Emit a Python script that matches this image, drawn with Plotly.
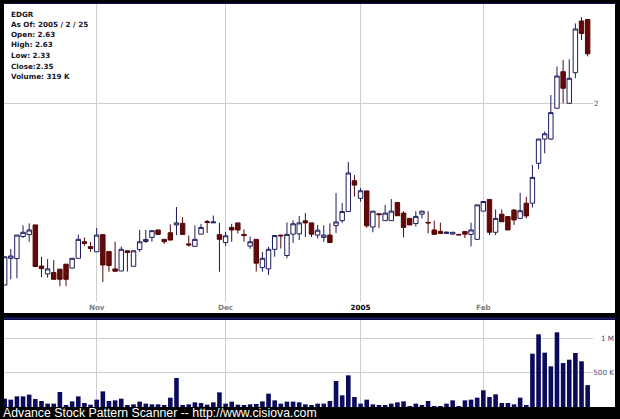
import plotly.graph_objects as go

# ---------------- data ----------------
dates = [
    "2004-10-11", "2004-10-12", "2004-10-13", "2004-10-14", "2004-10-15", "2004-10-18", "2004-10-19",
    "2004-10-20", "2004-10-21", "2004-10-22", "2004-10-25", "2004-10-26", "2004-10-27", "2004-10-28",
    "2004-10-29",
    "2004-11-01", "2004-11-02", "2004-11-03", "2004-11-04", "2004-11-05", "2004-11-08", "2004-11-09",
    "2004-11-10", "2004-11-11", "2004-11-12", "2004-11-15", "2004-11-16", "2004-11-17", "2004-11-18",
    "2004-11-19", "2004-11-22", "2004-11-23", "2004-11-24", "2004-11-26", "2004-11-29", "2004-11-30",
    "2004-12-01", "2004-12-02", "2004-12-03", "2004-12-06", "2004-12-07", "2004-12-08", "2004-12-09",
    "2004-12-10", "2004-12-13", "2004-12-14", "2004-12-15", "2004-12-16", "2004-12-17", "2004-12-20",
    "2004-12-21", "2004-12-22", "2004-12-23", "2004-12-27", "2004-12-28", "2004-12-29", "2004-12-30",
    "2004-12-31",
    "2005-01-03", "2005-01-04", "2005-01-05", "2005-01-06", "2005-01-07", "2005-01-10", "2005-01-11",
    "2005-01-12", "2005-01-13", "2005-01-14", "2005-01-18", "2005-01-19", "2005-01-20", "2005-01-21",
    "2005-01-24", "2005-01-25", "2005-01-26", "2005-01-27", "2005-01-28", "2005-01-31",
    "2005-02-01", "2005-02-02", "2005-02-03", "2005-02-04", "2005-02-07", "2005-02-08", "2005-02-09",
    "2005-02-10", "2005-02-11", "2005-02-14", "2005-02-15", "2005-02-16", "2005-02-17", "2005-02-18",
    "2005-02-22", "2005-02-23", "2005-02-24", "2005-02-25",
]

opens = [
    1.101, 1.202, 1.201, 1.291, 1.299, 1.341, 1.172, 1.142, 1.147, 1.160,
    1.179, 1.164, 1.202, 1.269, 1.249, 1.228, 1.299, 1.229, 1.161, 1.153,
    1.232, 1.171, 1.237, 1.270, 1.287, 1.319, 1.279, 1.307, 1.341, 1.348,
    1.260, 1.250, 1.301, 1.356, 1.350, 1.299, 1.266, 1.330, 1.350, 1.300,
    1.251, 1.279, 1.166, 1.161, 1.238, 1.297, 1.213, 1.301, 1.302, 1.359,
    1.350, 1.297, 1.287, 1.297, 1.338, 1.360, 1.401, 1.550, 1.463, 1.499,
    1.332, 1.391, 1.360, 1.360, 1.443, 1.394, 1.370, 1.347, 1.389, 1.352,
    1.319, 1.313, 1.304, 1.301, 1.300, 1.312, 1.300, 1.279, 1.403, 1.458,
    1.309, 1.389, 1.378, 1.408, 1.370, 1.440, 1.440, 1.641, 1.777, 1.777,
    1.966, 2.216, 1.998, 2.209, 2.617, 2.63,
]

highs = [
    1.208, 1.239, 1.297, 1.339, 1.348, 1.341, 1.208, 1.199, 1.195, 1.160,
    1.179, 1.203, 1.299, 1.287, 1.268, 1.328, 1.299, 1.229, 1.269, 1.249,
    1.232, 1.232, 1.319, 1.319, 1.316, 1.319, 1.279, 1.343, 1.422, 1.376,
    1.295, 1.339, 1.346, 1.363, 1.383, 1.350, 1.310, 1.346, 1.350, 1.322,
    1.291, 1.279, 1.227, 1.248, 1.295, 1.297, 1.352, 1.361, 1.381, 1.394,
    1.350, 1.341, 1.339, 1.348, 1.489, 1.441, 1.648, 1.579, 1.514, 1.499,
    1.403, 1.391, 1.432, 1.460, 1.443, 1.403, 1.370, 1.403, 1.403, 1.403,
    1.360, 1.351, 1.310, 1.309, 1.300, 1.312, 1.351, 1.432, 1.448, 1.458,
    1.411, 1.411, 1.378, 1.413, 1.490, 1.470, 1.632, 1.777, 1.822, 2.053,
    2.254, 2.303, 2.308, 2.596, 2.650, 2.63,
]

lows = [
    1.101, 1.122, 1.126, 1.285, 1.269, 1.170, 1.130, 1.128, 1.122, 1.097,
    1.097, 1.163, 1.202, 1.252, 1.228, 1.228, 1.112, 1.150, 1.152, 1.153,
    1.151, 1.171, 1.228, 1.264, 1.269, 1.300, 1.260, 1.276, 1.297, 1.300,
    1.249, 1.250, 1.301, 1.306, 1.350, 1.150, 1.252, 1.269, 1.304, 1.269,
    1.240, 1.151, 1.150, 1.138, 1.208, 1.241, 1.202, 1.264, 1.276, 1.289,
    1.289, 1.283, 1.268, 1.266, 1.306, 1.350, 1.401, 1.472, 1.447, 1.328,
    1.309, 1.328, 1.360, 1.359, 1.382, 1.287, 1.341, 1.334, 1.370, 1.304,
    1.300, 1.304, 1.304, 1.301, 1.298, 1.285, 1.250, 1.279, 1.403, 1.297,
    1.297, 1.355, 1.319, 1.341, 1.370, 1.370, 1.420, 1.611, 1.696, 1.772,
    1.966, 1.998, 1.998, 2.169, 2.459, 2.33,
]

closes = [
    1.208, 1.211, 1.297, 1.309, 1.319, 1.170, 1.162, 1.161, 1.122, 1.122,
    1.122, 1.202, 1.279, 1.262, 1.241, 1.297, 1.176, 1.174, 1.152, 1.238,
    1.225, 1.232, 1.269, 1.279, 1.316, 1.300, 1.269, 1.276, 1.350, 1.300,
    1.256, 1.279, 1.330, 1.352, 1.354, 1.279, 1.294, 1.319, 1.319, 1.295,
    1.269, 1.183, 1.202, 1.238, 1.295, 1.294, 1.300, 1.346, 1.350, 1.350,
    1.301, 1.318, 1.297, 1.266, 1.354, 1.401, 1.590, 1.528, 1.500, 1.337,
    1.403, 1.387, 1.394, 1.403, 1.382, 1.330, 1.341, 1.379, 1.403, 1.350,
    1.300, 1.304, 1.310, 1.309, 1.298, 1.301, 1.319, 1.432, 1.448, 1.309,
    1.370, 1.355, 1.319, 1.363, 1.405, 1.381, 1.567, 1.777, 1.808, 1.938,
    2.185, 2.099, 2.169, 2.549, 2.512, 2.35,
]

volumes = [
    121000, 107000, 155000, 155000, 180000, 116000, 87000, 49000, 49000, 218000,
    24000, 82000, 155000, 58000, 34000, 107000, 228000, 87000, 97000, 121000,
    24000, 39000, 78000, 49000, 39000, 39000, 15000, 136000, 422000, 24000,
    39000, 68000, 58000, 34000, 68000, 213000, 49000, 78000, 34000, 24000,
    39000, 44000, 82000, 194000, 97000, 49000, 78000, 78000, 68000, 39000,
    24000, 49000, 49000, 87000, 378000, 170000, 461000, 146000, 49000, 107000,
    39000, 24000, 24000, 49000, 68000, 82000, 10000, 49000, 15000, 87000,
    5000, 5000, 49000, 97000, 5000, 97000, 107000, 136000, 243000, 146000,
    184000, 58000, 58000, 39000, 136000, 15000, 776000, 1058000, 791000, 592000,
    1087000, 640000, 689000, 786000, 665000, 319000,
]

month_ticks = ["2004-11-01", "2004-12-01", "2005-01-03", "2005-02-01"]
month_labels = ["Nov", "Dec", "<span style='color:#000000'>2005</span>", "Feb"]
price_ticks = [2]
price_labels = ["2"]
volume_ticks = [500000, 1000000]
volume_labels = ["500 K", "1 M"]

info_lines = ["EDGR", "As Of: 2005 / 2 / 25", "Open: 2.63", "High: 2.63",
              "Low: 2.33", "Close:2.35", "Volume: 319 K"]
footer = "Advance Stock Pattern Scanner -- http://www.cisiova.com"

# ---------------- figure ----------------
W, H = 620, 419
ML, MR, MT, MB = 4, 27, 4, 12
PW, PH = W - ML - MR, H - MT - MB


def py(y):
    """pixel row -> paper y"""
    return (H - MB - y) / PH


def px(x):
    return (x - ML) / PW


grid = "#cfcfcf"

fig = go.Figure()
fig.add_trace(go.Candlestick(
    x=dates, open=opens, high=highs, low=lows, close=closes,
    xaxis="x", yaxis="y",
    increasing=dict(line=dict(color="#1c1c5e", width=1), fillcolor="#ffffff"),
    decreasing=dict(line=dict(color="#560606", width=1), fillcolor="#620a0a"),
    whiskerwidth=0, showlegend=False, hoverinfo="skip",
))
fig.add_trace(go.Bar(
    x=dates, y=volumes, xaxis="x2", yaxis="y2",
    marker=dict(color="#0b0b5c", line=dict(width=0)),
    showlegend=False, hoverinfo="skip",
))

xr = [-0.105, 95.87]
fig.update_layout(
    width=W, height=H,
    margin=dict(l=ML, r=MR, t=MT, b=MB, pad=0),
    paper_bgcolor="#000000", plot_bgcolor="#ffffff",
    boxgap=0.15, boxgroupgap=0.15, bargap=0.25,
    xaxis=dict(domain=[0, 1], anchor="y", type="category", range=xr,
               rangeslider=dict(visible=False),
               tickmode="array", tickvals=month_ticks, ticktext=month_labels,
               showgrid=True, gridcolor=grid, gridwidth=1, zeroline=False,
               showline=False, ticks="", ticklen=0,
               tickfont=dict(family="DejaVu Sans", size=7.2, color="#808080", weight="bold")),
    yaxis=dict(domain=[py(302), 1], anchor="x", type="log",
               range=[0.01767, 0.44200], side="right",
               tickmode="array", tickvals=price_ticks, ticktext=price_labels,
               showgrid=True, gridcolor=grid, gridwidth=1, zeroline=False,
               showline=False, ticks="", ticklen=0,
               tickfont=dict(family="DejaVu Sans", size=7.2, color="#555555")),
    xaxis2=dict(domain=[0, 1], anchor="y2", type="category", range=xr,
                tickmode="array", tickvals=month_ticks, showticklabels=False,
                showgrid=True, gridcolor=grid, gridwidth=1, zeroline=False,
                showline=False, ticks=""),
    yaxis2=dict(domain=[0, py(320)], anchor="x2", range=[0, 1266400], side="right",
                tickmode="array", tickvals=volume_ticks, ticktext=volume_labels,
                showgrid=True, gridcolor=grid, gridwidth=1, zeroline=False,
                showline=False, ticks="", ticklen=0,
                ticklabelposition="inside", ticklabelstandoff=-24,
                tickfont=dict(family="DejaVu Sans", size=7.2, color="#4a4a80")),
    shapes=[
        dict(type="rect", xref="paper", yref="paper", x0=px(4), x1=px(615),
             y0=py(313), y1=py(4), fillcolor="#ffffff", line=dict(width=0), layer="below"),
        dict(type="rect", xref="paper", yref="paper", x0=px(4), x1=px(615),
             y0=py(407), y1=py(320), fillcolor="#ffffff", line=dict(width=0), layer="below"),
        dict(type="line", xref="paper", yref="paper", x0=px(4), x1=px(615),
             y0=py(318.5), y1=py(318.5), line=dict(color="#1c1c78", width=2)),
        dict(type="line", xref="paper", yref="paper", x0=px(4), x1=px(615),
             y0=py(3.5), y1=py(3.5), line=dict(color="#101050", width=1)),
    ],
)

info_y = [14, 24.5, 35, 45, 55.5, 66, 76.5]
annotations = []
for t, yy in zip(info_lines, info_y):
    annotations.append(dict(text=t, xref="paper", yref="paper", x=px(8.5), y=py(yy),
                            xanchor="left", yanchor="middle", showarrow=False,
                            font=dict(family="DejaVu Sans", size=7.2, color="#141428", weight="bold")))
annotations.append(dict(text=footer, xref="paper", yref="paper", x=px(1), y=py(412.5),
                        xanchor="left", yanchor="middle", showarrow=False,
                        font=dict(family="Liberation Sans, Arial", size=12.3, color="#ffffff")))
fig.update_layout(annotations=annotations)

fig.write_html("out.html", config={"displayModeBar": False},
               post_script="document.body.style.margin='0px';")
